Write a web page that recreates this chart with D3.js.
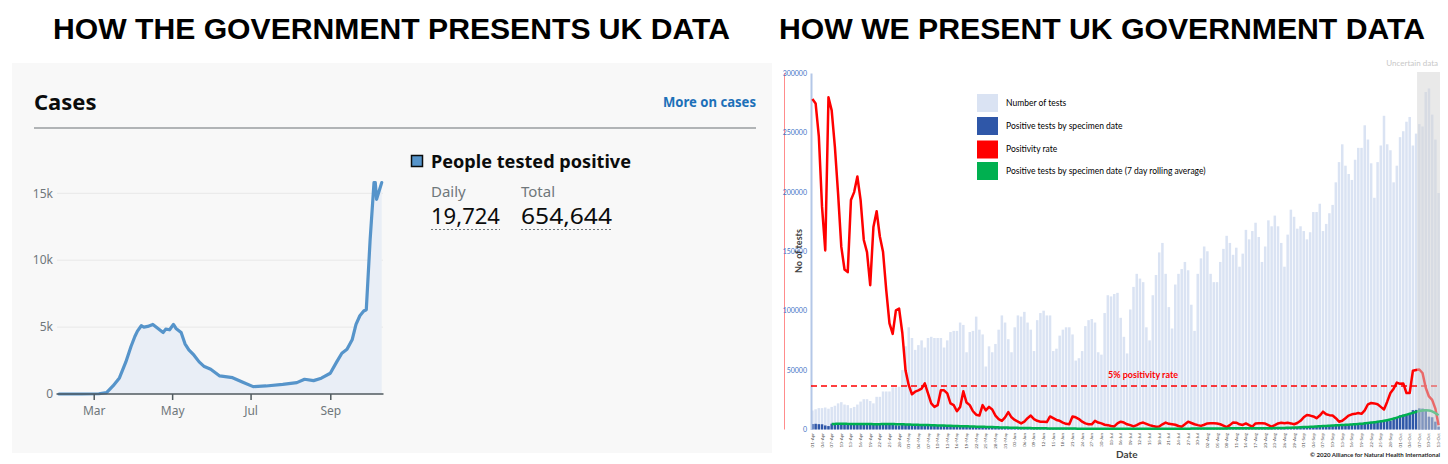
<!DOCTYPE html>
<html>
<head>
<meta charset="utf-8">
<script src="https://cdn.jsdelivr.net/npm/d3@7"></script>
<style>
  body { margin: 0; background: #fff; }
  svg { display: block; }
</style>
</head>
<body>
<script>
var titles = ["HOW THE GOVERNMENT PRESENTS UK DATA", "HOW WE PRESENT UK GOVERNMENT DATA"];

// left panel: gov.uk dashboard, daily cases (7 day smoothed)
var govDates = ["2020-02-03", "2020-02-20", "2020-03-05", "2020-03-11", "2020-03-16", "2020-03-21", "2020-03-26", "2020-03-30",
  "2020-04-02", "2020-04-04", "2020-04-07", "2020-04-09", "2020-04-12", "2020-04-16", "2020-04-20", "2020-04-24", "2020-04-26",
  "2020-04-29", "2020-05-02", "2020-05-04", "2020-05-08", "2020-05-11", "2020-05-14", "2020-05-18", "2020-05-22", "2020-05-26",
  "2020-05-31", "2020-06-07", "2020-06-17", "2020-06-25", "2020-07-03", "2020-07-13", "2020-07-26", "2020-08-06", "2020-08-12",
  "2020-08-19", "2020-08-25", "2020-09-01", "2020-09-06", "2020-09-10", "2020-09-14", "2020-09-18", "2020-09-21", "2020-09-24",
  "2020-09-27", "2020-09-29", "2020-10-02", "2020-10-05", "2020-10-06", "2020-10-07", "2020-10-11"];
var govCases = [0, 0, 20, 100, 600, 1200, 2400, 3550,
  4300, 4700, 5100, 5000, 5050, 5200, 4900, 4600, 4850,
  4800, 5200, 4900, 4600, 3750, 3300, 2900, 2400, 2050,
  1850, 1350, 1220, 880, 550, 600, 720, 850, 1100,
  1000, 1180, 1550, 2400, 3050, 3350, 4050, 5200, 5850,
  6200, 6300, 11550, 15800, 15800, 14550, 15800];
var govXTicks = ["2020-03-01", "2020-05-01", "2020-07-01", "2020-09-01"];
var govYTicks = [0, 5000, 10000, 15000];
var govDaily = "19,724", govTotal = "654,644";

// right panel: daily series from 01-Apr to 13-Oct
var startDate = "2020-04-01";
var testsK = [
  16, 17, 18, 18, 18.5, 17.5, 19, 20, 22, 23,
  21, 20.5, 18, 19, 21, 23.5, 25.5, 25.5, 24, 22,
  27.5, 27.5, 32, 32, 32, 35.5, 35.5, 36, 50, 70,
  86, 77, 67, 71, 75, 69, 77, 78, 77, 77,
  77, 69, 75, 82, 83, 83, 90, 88, 65, 82,
  83, 95, 84, 80, 53, 70, 65, 72, 84, 96,
  90, 76, 65, 86, 96, 95, 99, 90, 84, 66,
  92, 98, 100, 96, 96, 66, 68, 79, 84, 86,
  86, 80, 58, 60, 66, 87, 92, 93, 90, 65,
  63, 98, 113, 112, 114, 115, 94, 78, 64, 101,
  120, 131, 127, 124, 86, 75, 113, 130, 149, 157,
  131, 103, 85, 122, 131, 135, 141, 134, 105, 83,
  131, 144, 154, 150, 131, 124, 124, 141, 152, 163,
  157, 147, 153, 137, 148, 168, 160, 167, 174, 162,
  141, 154, 176, 171, 180, 171, 157, 137, 164, 185,
  179, 169, 171, 167, 160, 166, 183, 183, 190, 167,
  173, 182, 189, 208, 225, 240, 222, 215, 210, 227,
  237, 237, 256, 244, 224, 195, 225, 239, 264, 240,
  235, 208, 222, 246, 251, 259, 263, 239, 249, 257,
  255, 284, 287, 265, 244, 199];
var positivesK = [
  4.6, 4.8, 4.5, 4.4, 3.4, 2.9, 4.9, 5.2, 5.0, 4.9,
  4.6, 4.3, 3.8, 3.9, 5.0, 5.1, 4.9, 4.8, 4.3, 3.9,
  3.8, 5.0, 5.2, 4.8, 4.7, 4.5, 3.6, 3.4,
  4.6, 4.5, 4.2, 3.9, 3.4, 3.2, 4.2,
  4.1, 3.9, 3.6, 3.5, 3.1, 2.8, 3.6,
  3.4, 3.3, 3.1, 2.9, 2.5, 2.3, 3.1,
  2.9, 2.8, 2.6, 2.4, 2.1, 1.9, 2.5,
  2.3, 2.2, 2.0, 1.8, 1.6, 1.4, 1.9,
  1.7, 1.6, 1.5, 1.3, 1.2, 1.0, 1.4,
  1.3, 1.2, 1.1, 1.0, 0.9, 0.8, 1.1,
  1.0, 0.95, 0.9, 0.85, 0.8, 0.7, 0.9,
  0.85, 0.8, 0.75, 0.7, 0.65, 0.55, 0.75,
  0.7, 0.7, 0.65, 0.6, 0.6, 0.5, 0.65,
  0.65, 0.6, 0.6, 0.55, 0.55, 0.5, 0.6,
  0.65, 0.65, 0.6, 0.6, 0.55, 0.5, 0.65,
  0.7, 0.7, 0.7, 0.65, 0.6, 0.55, 0.7,
  0.8, 0.8, 0.75, 0.75, 0.7, 0.65, 0.8,
  0.9, 0.9, 0.85, 0.8, 0.8, 0.7, 0.9,
  1.0, 1.0, 1.0, 0.95, 0.9, 0.8, 1.0,
  1.1, 1.1, 1.1, 1.0, 1.0, 0.9, 1.2,
  1.3, 1.4, 1.5, 1.4, 1.4, 1.3, 1.8,
  2.2, 2.5, 2.6, 2.7, 2.6, 2.4, 3.1,
  3.4, 3.6, 3.8, 3.9, 3.7, 3.3, 4.2,
  4.6, 4.9, 5.3, 5.4, 5.2, 4.8, 6.0,
  6.7, 7.2, 7.6, 7.8, 7.5, 7.2, 9.0,
  10.5, 12.0, 12.5, 12.8, 13.0, 16.3, 16.5,
  17.8, 17.6, 17.0, 10.8, 10.3, 6.6, 2.4];
// 7 day rolling average, first six days have none
var rollingK = [null, null, null, null, null, null,
  4.6, 4.7, 4.8, 4.8, 4.8, 4.7, 4.6, 4.6, 4.6, 4.6, 4.6, 4.6, 4.6, 4.5, 4.5, 4.5, 4.6, 4.6, 4.6, 4.6, 4.5, 4.5, 4.4, 4.3, 4.2,
  4.1, 4.0, 3.9, 3.8, 3.8, 3.7, 3.6, 3.5, 3.4, 3.3, 3.3, 3.2, 3.1, 3.0, 2.9, 2.8, 2.8, 2.7, 2.6, 2.5, 2.4, 2.3, 2.3, 2.2, 2.1, 2.0, 1.9, 1.8, 1.7, 1.7,
  1.6, 1.5, 1.5, 1.4, 1.3, 1.3, 1.2, 1.2, 1.1, 1.1, 1.0, 1.0, 0.95, 0.9, 0.9, 0.85, 0.85, 0.8, 0.8, 0.8, 0.75, 0.75, 0.7, 0.7, 0.7, 0.65, 0.65, 0.65, 0.6, 0.6,
  0.6, 0.6, 0.6, 0.58, 0.58, 0.57, 0.57, 0.57, 0.56, 0.56, 0.56, 0.57, 0.58, 0.58, 0.59, 0.6, 0.6, 0.61, 0.62, 0.63,
  0.64, 0.65, 0.66, 0.67, 0.68, 0.7, 0.72, 0.74, 0.75, 0.77, 0.79, 0.8, 0.82, 0.84, 0.86, 0.88, 0.9, 0.92, 0.94, 0.96,
  0.97, 0.98, 0.99, 1.0, 1.0, 1.0, 1.05, 1.05, 1.05, 1.1, 1.1, 1.1, 1.15, 1.2, 1.25, 1.3, 1.35, 1.4, 1.5, 1.6,
  1.7, 1.85, 2.0, 2.15, 2.3, 2.4, 2.6, 2.75, 2.9, 3.0, 3.2, 3.35, 3.5, 3.6, 3.8, 3.9, 4.1, 4.3, 4.5, 4.7,
  4.9, 5.2, 5.5, 5.8, 6.1, 6.5, 6.9, 7.3, 7.8, 8.4, 9.2, 10.0, 10.8, 11.6, 12.4, 13.2, 14.0, 14.8, 15.5, 16.0,
  16.2, 16.0, 15.2, 13.8, 12.0];
var positivityPct = [
  38.0, 37.5, 33.7, 25.6, 20.6, 38.2, 36.7, 32.5, 27.1, 21.0,
  18.4, 18.1, 26.4, 27.3, 29.1, 26.4, 21.8, 20.4, 16.6, 23.3,
  25.1, 22.2, 20.4, 16.0, 12.2, 11.0, 13.7, 13.9, 11.1, 6.8,
  5.1, 4.05, 4.35, 4.5, 4.7, 5.3, 4.15, 3.0, 2.6, 2.8,
  4.5, 4.5, 4.15, 3.0, 2.8, 2.1, 2.6, 4.4, 3.1, 2.8,
  2.1, 1.7, 1.6, 2.8, 2.2, 2.6, 2.3, 1.6, 1.2, 1.0,
  1.4, 2.0, 1.4, 1.1, 0.9, 0.7, 0.9, 1.3, 1.6, 1.2,
  1.0, 0.9, 0.9, 0.85, 1.5, 1.3, 1.1, 1.0, 0.8, 0.65,
  0.6, 1.5, 1.4, 1.2, 0.9, 0.7, 0.6, 0.6, 1.0, 0.8,
  0.7, 0.55, 0.5, 0.4, 0.35, 0.7, 0.9, 0.8, 0.6, 0.5,
  0.35, 0.5, 0.7, 0.8, 0.65, 0.5, 0.4, 0.32, 0.35, 0.6,
  0.8, 0.65, 0.6, 0.55, 0.4, 0.32, 0.6, 0.9, 0.75, 0.6,
  0.5, 0.42, 0.55, 0.7, 0.72, 0.71, 0.68, 0.6, 0.45, 0.28,
  0.5, 0.8, 0.78, 0.6, 0.52, 0.7, 0.5, 0.32, 0.7, 0.72,
  0.71, 0.68, 0.5, 0.32, 0.5, 0.7, 0.78, 0.72, 0.78, 0.7,
  0.6, 0.75, 1.0, 1.4, 1.67, 1.6, 1.5, 1.3, 1.6, 2.05,
  1.75, 1.65, 1.6, 1.3, 0.9, 1.0, 1.3, 1.6, 1.75, 1.8,
  1.9, 1.8, 2.2, 2.9, 3.05, 3.0, 2.9, 2.6, 2.3, 3.2,
  4.2, 4.7, 5.4, 5.25, 5.3, 4.2, 4.2, 6.76, 6.84, 6.9,
  6.5, 4.8, 3.8, 3.4, 2.4, 0.5];
var testTicksK = [0, 50, 100, 150, 200, 250, 300];
var thresholdPct = 5;
var uncertainDays = 7;
var legendNames = ["Number of tests", "Positive tests by specimen date", "Positivity rate",
  "Positive tests by specimen date (7 day rolling average)"];

var parse = d3.timeParse("%Y-%m-%d");
var svg = d3.select("body").append("svg").attr("width", 1448).attr("height", 464);

// titles
var titleSpan = [[53, 730], [779, 1425]];
svg.selectAll("text.title").data(titles).enter().append("text")
  .attr("class", "title")
  .attr("x", function(d, i) { return titleSpan[i][0]; })
  .attr("y", 39)
  .attr("textLength", function(d, i) { return titleSpan[i][1] - titleSpan[i][0]; })
  .attr("lengthAdjust", "spacingAndGlyphs")
  .style("font-family", "'Liberation Sans Narrow', 'Liberation Sans', Arial, sans-serif")
  .style("font-weight", "bold")
  .style("font-size", "29px")
  .text(function(d) { return d; });

/* ---------- left: gov dashboard ---------- */
var gov = svg.append("g").style("font-family", "'Noto Sans', sans-serif");
gov.append("rect").attr("x", 12).attr("y", 63).attr("width", 760).attr("height", 390).attr("fill", "#f8f8f8");
gov.append("text").attr("x", 34).attr("y", 110).text("Cases")
  .style("font-weight", "bold").style("font-size", "22px").attr("fill", "#0b0c0c");
gov.append("text").attr("x", 756).attr("y", 107).attr("text-anchor", "end").text("More on cases")
  .attr("textLength", 93).attr("lengthAdjust", "spacingAndGlyphs")
  .style("font-weight", "bold").style("font-size", "14px").attr("fill", "#1d70b8");
gov.append("line").attr("x1", 34).attr("x2", 756).attr("y1", 128).attr("y2", 128)
  .attr("stroke", "#b1b4b6").attr("stroke-width", 2);

var gx = d3.scaleTime().domain([parse("2020-02-03"), parse("2020-10-12")]).range([59, 383]);
var gy = d3.scaleLinear().domain([0, 15000]).range([394, 193.3]);
var govData = govDates.map(function(d, i) { return { date: parse(d), v: govCases[i] }; });

gov.selectAll("line.grid").data(govYTicks.slice(1)).enter().append("line")
  .attr("class", "grid")
  .attr("x1", 57).attr("x2", 383)
  .attr("y1", function(d) { return gy(d); }).attr("y2", function(d) { return gy(d); })
  .attr("stroke", "#e8e8e8");

gov.selectAll("text.ylab").data(govYTicks).enter().append("text")
  .attr("class", "ylab")
  .attr("x", 53).attr("y", function(d) { return gy(d); }).attr("dy", "0.35em")
  .attr("text-anchor", "end").attr("fill", "#6f777b").style("font-size", "12px")
  .text(function(d) { return d === 0 ? "0" : (d / 1000) + "k"; });

gov.append("path").datum(govData)
  .attr("fill", "#e9eef6")
  .attr("d", d3.area().x(function(d) { return gx(d.date); }).y0(gy(0)).y1(function(d) { return gy(d.v); }));
gov.append("path").datum(govData)
  .attr("fill", "none").attr("stroke", "#5694ca").attr("stroke-width", 3.2)
  .attr("stroke-linejoin", "round").attr("stroke-linecap", "round")
  .attr("d", d3.line().x(function(d) { return gx(d.date); }).y(function(d) { return gy(d.v); }));

var gAxis = gov.append("g").attr("transform", "translate(0,394)")
  .call(d3.axisBottom(gx).tickValues(govXTicks.map(parse)).tickFormat(d3.timeFormat("%b")).tickSize(6).tickSizeOuter(0).tickPadding(6));
gAxis.select(".domain").attr("stroke", "#505a5f").attr("stroke-width", 1.5).attr("d", "M56.5,0H383.5");
gAxis.selectAll(".tick line").attr("stroke", "#505a5f").attr("stroke-width", 1.5);
gAxis.selectAll(".tick text").attr("fill", "#6f777b").style("font-size", "12px").style("font-family", "'Noto Sans', sans-serif");

// headline figures
gov.append("rect").attr("x", 411.5).attr("y", 155.5).attr("width", 11).attr("height", 11)
  .attr("fill", "#5694ca").attr("stroke", "#0b0c0c").attr("stroke-width", 1.5);
gov.append("text").attr("x", 431).attr("y", 168).text("People tested positive")
  .attr("textLength", 200).attr("lengthAdjust", "spacingAndGlyphs")
  .style("font-weight", "bold").style("font-size", "18px").attr("fill", "#0b0c0c");
var figs = [["Daily", govDaily, 431, 69], ["Total", govTotal, 521, 91]];
figs.forEach(function(f) {
  gov.append("text").attr("x", f[2]).attr("y", 197).text(f[0]).attr("fill", "#6f777b").style("font-size", "15px");
  gov.append("text").attr("x", f[2]).attr("y", 224).text(f[1]).attr("fill", "#0b0c0c")
    .attr("textLength", f[3]).attr("lengthAdjust", "spacingAndGlyphs").style("font-size", "22px");
  gov.append("line").attr("x1", f[2]).attr("x2", f[2] + f[3]).attr("y1", 229.5).attr("y2", 229.5)
    .attr("stroke", "#6f777b").attr("stroke-dasharray", "2,2");
});

/* ---------- right: combined chart ---------- */
var ch = svg.append("g").style("font-family", "Lato, 'Open Sans', sans-serif");
var start = parse(startDate);
var idx = d3.range(testsK.length);
var x = d3.scaleBand().domain(idx).range([811, 1440]).paddingInner(0.22).paddingOuter(0.05);
var yT = d3.scaleLinear().domain([0, 300]).range([429.5, 73]);
var yR = d3.scaleLinear().domain([0, 41]).range([429.5, 73]);
var cx = function(i) { return x(i) + x.bandwidth() / 2; };

// secondary (rate) axis line
ch.append("line").attr("x1", 784.5).attr("x2", 784.5).attr("y1", yR.range()[1]).attr("y2", yR.range()[0])
  .attr("stroke", "#ff8c8c").attr("stroke-width", 1);

ch.selectAll("rect.tests").data(testsK).enter().append("rect")
  .attr("class", "tests")
  .attr("x", function(d, i) { return x(i); })
  .attr("y", function(d) { return yT(d); })
  .attr("width", x.bandwidth())
  .attr("height", function(d) { return yT(0) - yT(d); })
  .attr("fill", "#dae3f3");

ch.selectAll("rect.pos").data(positivesK).enter().append("rect")
  .attr("class", "pos")
  .attr("x", function(d, i) { return x(i); })
  .attr("y", function(d) { return yT(d); })
  .attr("width", x.bandwidth())
  .attr("height", function(d) { return yT(0) - yT(d); })
  .attr("fill", "#2f57a8");

var yAxis = ch.append("g").attr("transform", "translate(811,0)")
  .call(d3.axisLeft(yT).tickValues(testTicksK).tickSize(0).tickPadding(4)
    .tickFormat(function(d) { return d * 1000; }));
yAxis.select(".domain").attr("stroke", "#b4c7e7").attr("stroke-width", 2);
yAxis.selectAll(".tick text").attr("fill", "#4472c4").style("font-size", "7px").style("font-family", "Lato, sans-serif");

ch.append("text").attr("transform", "translate(802,251) rotate(-90)").attr("text-anchor", "middle")
  .text("No of tests").style("font-size", "9px").style("font-weight", "bold").attr("fill", "#404040");

// 5% threshold
ch.append("line").attr("x1", 811).attr("x2", 1440).attr("y1", yR(thresholdPct)).attr("y2", yR(thresholdPct))
  .attr("stroke", "#ff0000").attr("stroke-width", 1.5).attr("stroke-dasharray", "6,4");
ch.append("text").attr("x", 1108).attr("y", yR(thresholdPct) - 8).text(thresholdPct + "% positivity rate")
  .attr("textLength", 70).attr("lengthAdjust", "spacingAndGlyphs")
  .style("font-size", "9px").style("font-weight", "bold").attr("fill", "#ff0000");

ch.append("path").datum(positivityPct)
  .attr("fill", "none").attr("stroke", "#ff0000").attr("stroke-width", 2.5).attr("stroke-linejoin", "round")
  .attr("d", d3.line().x(function(d, i) { return cx(i); }).y(function(d) { return yR(d); }));

ch.append("path").datum(rollingK)
  .attr("fill", "none").attr("stroke", "#00b050").attr("stroke-width", 2.5)
  .attr("d", d3.line().defined(function(d) { return d !== null; })
    .x(function(d, i) { return cx(i); }).y(function(d) { return yT(d); }).curve(d3.curveMonotoneX));

// uncertain data band over the last days
var uStart = testsK.length - uncertainDays;
ch.append("rect").attr("x", x(uStart) - 1).attr("y", 72).attr("width", 1440 - x(uStart) + 1).attr("height", yT(0) - 72)
  .attr("fill", "#d4d4d4").attr("opacity", 0.5);
ch.append("text").attr("x", 1438).attr("y", 66).attr("text-anchor", "end").text("Uncertain data")
  .style("font-size", "8px").attr("fill", "#c8c8c8");

// date labels, every third day
var fmt = d3.timeFormat("%d-%b");
ch.selectAll("text.date").data(idx.filter(function(i) { return i % 3 === 0; })).enter().append("text")
  .attr("class", "date")
  .attr("transform", function(i) { return "translate(" + (cx(i) + 1.5) + ",433) rotate(-90)"; })
  .attr("text-anchor", "end")
  .style("font-size", "4.6px").attr("fill", "#595959")
  .text(function(i) { return fmt(d3.timeDay.offset(start, i)); });

ch.append("text").attr("x", 1116).attr("y", 458).text("Date")
  .style("font-size", "10px").style("font-weight", "bold").attr("fill", "#404040");
ch.append("text").attr("x", 1440).attr("y", 457).attr("text-anchor", "end")
  .text("\u00a9 2020 Alliance for Natural Health International")
  .attr("textLength", 130).attr("lengthAdjust", "spacingAndGlyphs")
  .style("font-size", "6px").style("font-weight", "bold").attr("fill", "#262626");

// legend
var legendColors = ["#dae3f3", "#2f57a8", "#ff0000", "#00b050"];
var legendY = [94, 117, 140.5, 162];
var lg = ch.selectAll("g.legend").data(legendNames).enter().append("g")
  .attr("class", "legend")
  .attr("transform", function(d, i) { return "translate(977," + legendY[i] + ")"; });
lg.append("rect").attr("width", 21).attr("height", 18)
  .attr("fill", function(d, i) { return legendColors[i]; });
lg.append("text").attr("x", 29).attr("y", 9).attr("dy", "0.35em")
  .style("font-size", "8.5px").attr("fill", "#000")
  .text(function(d) { return d; });
</script>
</body>
</html>
